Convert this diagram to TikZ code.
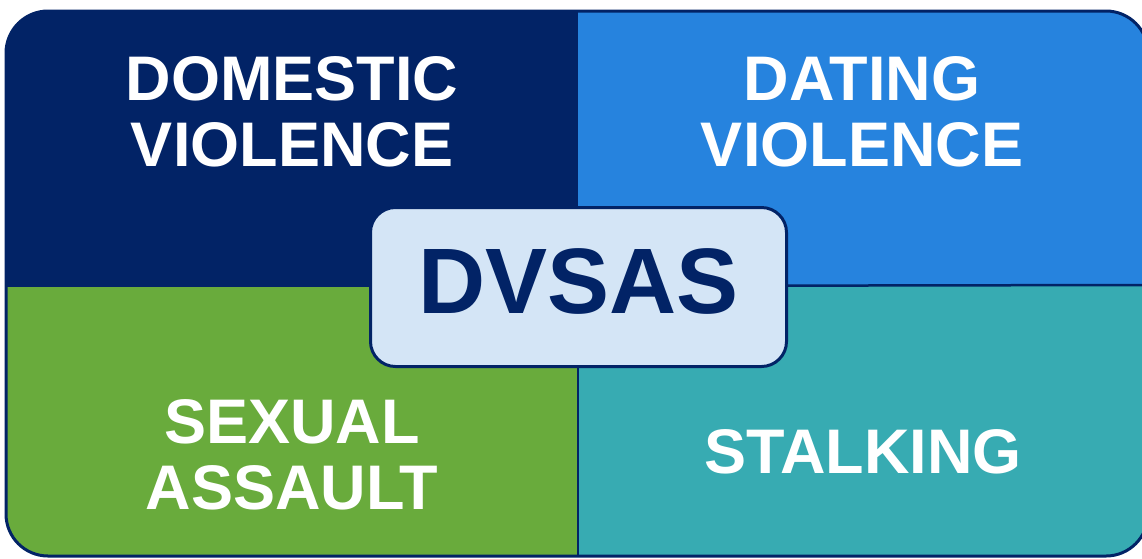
\documentclass[tikz,border=0pt]{standalone}
\usepackage{fontspec}
\setmainfont{Liberation Sans}
\usetikzlibrary{positioning}

\definecolor{dvnavy}{RGB}{2,35,102}
\definecolor{dvblue}{RGB}{38,131,222}
\definecolor{dvgreen}{RGB}{105,171,60}
\definecolor{dvteal}{RGB}{55,171,178}
\definecolor{dvlight}{RGB}{212,229,246}

\tikzset{
  quadtext/.style={text=white, font=\bfseries\fontsize{63}{66}\selectfont,
    align=center, inner sep=0pt, anchor=north},
  divider/.style={draw=dvnavy, line width=2.5pt}
}

\begin{document}
\begin{tikzpicture}[x=1pt,y=-1pt]
	\clip (0,0) rectangle (1142,558);
	% quadrants
	\begin{scope}
		\clip[rounded corners=42pt] (6,11) rectangle (1148,556);
		\fill[dvnavy]  (6,11)    rectangle (578,287);
		\fill[dvblue]  (578,11)  rectangle (1148,285);
		\fill[dvgreen] (6,287)   rectangle (578,556);
		\fill[dvteal]  (578,285) rectangle (1148,556);
		\coordinate (mid)    at (578,286);
		\coordinate (bottom) at (578,556);
		\coordinate (right)  at (1148,285);
		\draw[divider] (mid) -- (bottom);
		\draw[divider] (mid) -- (right);
	\end{scope}
	\draw[dvnavy, line width=3pt, rounded corners=42pt] (6,11) rectangle (1148,556);

	\node[quadtext] (domestic) at (292,56)  {DOMESTIC\\VIOLENCE};
	\node[quadtext] (dating)   at (862,56)  {DATING\\VIOLENCE};
	\node[quadtext] (sexual)   at (292,399) {SEXUAL\\ASSAULT};
	\node[quadtext] (stalking) at (863,429) {STALKING};

	\node[draw=dvnavy, line width=3pt, fill=dvlight, rounded corners=25pt,
		minimum width=416pt, minimum height=159pt, inner sep=0pt, text depth=12pt,
		text=dvnavy, font=\bfseries\fontsize{93}{93}\selectfont]
		(dvsas) at (578.5,287) {DVSAS};
\end{tikzpicture}
\end{document}
